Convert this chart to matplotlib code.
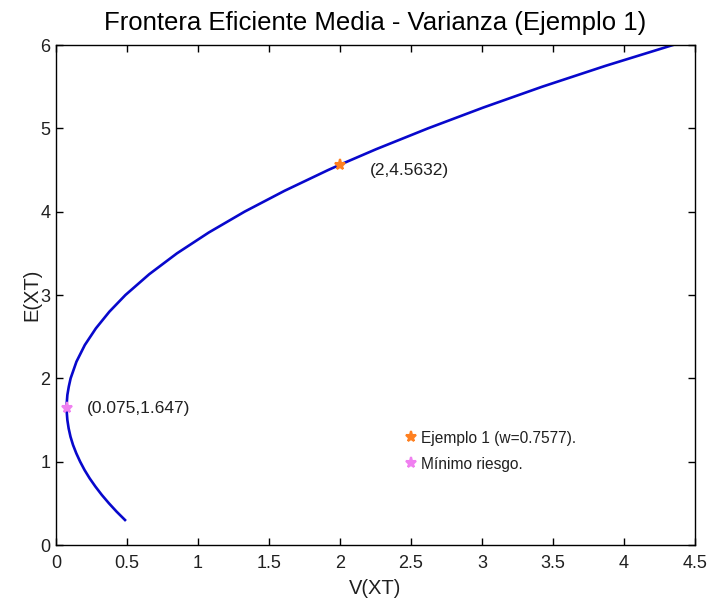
import matplotlib
matplotlib.use("Agg")
import matplotlib.pyplot as plt

plt.rcParams['font.family'] = ['Liberation Sans', 'DejaVu Sans']

# Frontier points: expected return E(XT) and variance V(XT)
E_vals = [0.3, 0.4, 0.5, 0.6, 0.7, 0.8, 0.9, 1.0, 1.1, 1.2, 1.3, 1.4, 1.5, 1.6,
          1.647, 1.7, 1.8, 1.9, 2.0, 2.2, 2.4, 2.6, 2.8, 3.0, 3.25, 3.5, 3.75,
          4.0, 4.25, 4.5, 4.5632, 4.75, 5.0, 5.25, 5.5, 5.75, 6.0]
V_vals = [0.486, 0.427, 0.373, 0.323, 0.278, 0.237, 0.201, 0.170, 0.143, 0.120,
          0.102, 0.089, 0.080, 0.0755, 0.075, 0.0756, 0.080, 0.090, 0.103, 0.144,
          0.203, 0.281, 0.376, 0.489, 0.657, 0.852, 1.076, 1.328, 1.609, 1.917,
          2.0, 2.255, 2.620, 3.010, 3.425, 3.870, 4.345]

ex_point = (2, 4.5632)
min_point = (0.075, 1.647)
ex_label = "(2,4.5632)"
min_label = "(0.075,1.647)"
legend_labels = ["Ejemplo 1 (w=0.7577).", "Mínimo riesgo."]

xticks = [0, 0.5, 1, 1.5, 2, 2.5, 3, 3.5, 4, 4.5]
xticklabels = ["0", "0.5", "1", "1.5", "2", "2.5", "3", "3.5", "4", "4.5"]
yticks = [0, 1, 2, 3, 4, 5, 6]

fig = plt.figure(figsize=(7.07, 6.02), dpi=100)
ax = fig.add_axes([56/707, 57/602, 639/707, 500/602])

ax.plot(V_vals, E_vals, color='#0808cc', linewidth=1.9, zorder=2)
h1, = ax.plot([ex_point[0]], [ex_point[1]], linestyle='none', marker='*',
              markersize=8, color='#ff8020', markeredgewidth=1.5, zorder=3)
h2, = ax.plot([min_point[0]], [min_point[1]], linestyle='none', marker='*',
              markersize=8, color='#f080f0', markeredgewidth=1.5, zorder=3)

ax.text(2.21, 4.49, ex_label, fontsize=12.5, va='center', ha='left', color='#202020')
ax.text(0.22, 1.64, min_label, fontsize=12.5, va='center', ha='left', color='#202020')

ax.set_xlim(0, 4.5)
ax.set_ylim(0, 6)
ax.set_xticks(xticks)
ax.set_xticklabels(xticklabels)
ax.set_yticks(yticks)
ax.tick_params(direction='in', top=True, right=True, labelsize=13, length=5,
               width=1, colors='black', labelcolor='#202020')
ax.tick_params(axis='x', pad=7)
ax.tick_params(axis='y', pad=4)
for s in ax.spines.values():
    s.set_linewidth(1.0)

ax.set_xlabel("V(XT)", fontsize=14.5, labelpad=5, color='#202020')
ax.set_ylabel("E(XT)", fontsize=14.5, labelpad=-1, color='#202020')
ax.set_title("Frontera Eficiente Media - Varianza (Ejemplo 1)", fontsize=18.5, pad=11)

leg = ax.legend([h1, h2], legend_labels, loc='upper left',
                bbox_to_anchor=(0.548, 0.229), frameon=False, fontsize=11.2,
                handlelength=0.6, handletextpad=0.35, labelspacing=0.72,
                borderaxespad=0, borderpad=0)
for t in leg.get_texts():
    t.set_color('#202020')

fig.savefig("out.png", dpi=100)
